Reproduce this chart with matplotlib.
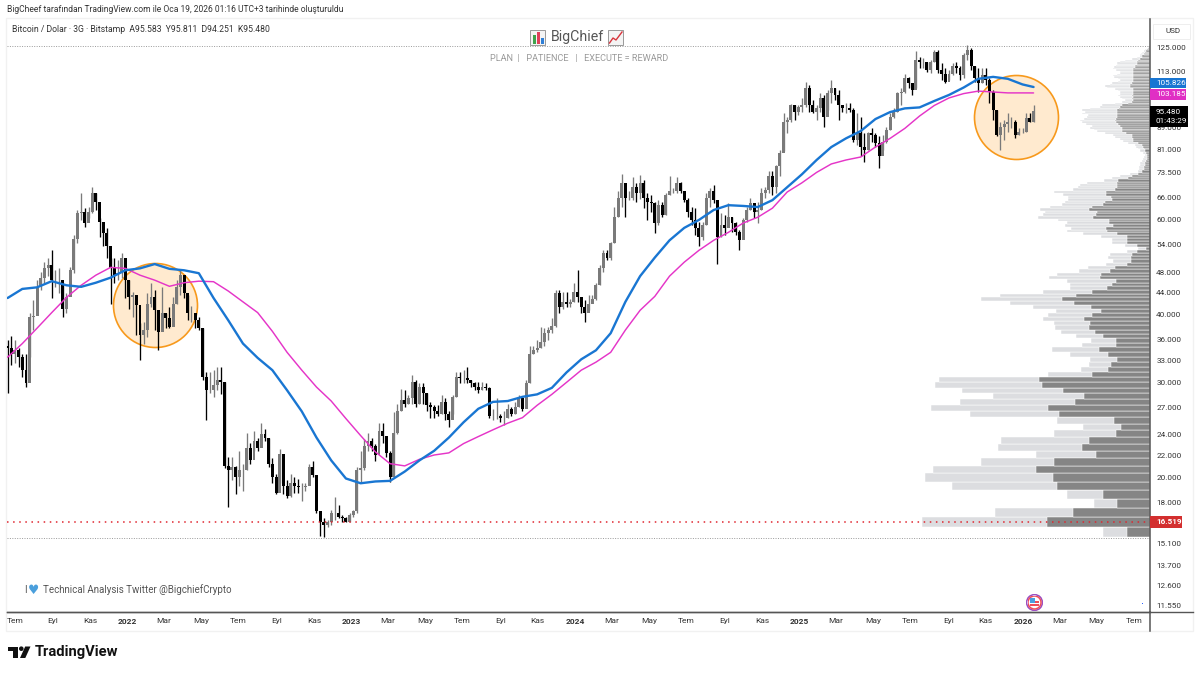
import numpy as np
import pandas as pd
import matplotlib
matplotlib.use("Agg")
import matplotlib.pyplot as plt
from matplotlib.patches import Rectangle, Circle, Polygon, FancyBboxPatch

plt.rcParams['font.family'] = ['Roboto', 'DejaVu Sans']

# ---------- data (thousand USD, one reading per 6 days) ----------
first_open = 35.0
closes = [
 34.8,33.9,34.4,33.4,31.6,29.9,39.6,39.9,45.0,46.8,
 48.9,49.4,46.4,46.4,46.4,41.1,43.1,48.4,55.4,61.8,
 62.1,59.2,62.1,67.3,64.8,59.4,56.7,53.8,48.9,47.4,
 47.8,50.9,46.4,43.1,43.6,41.7,36.7,37.5,42.0,43.1,
 40.8,37.2,40.3,39.5,38.0,42.0,45.0,47.4,43.9,40.3,
 40.3,39.1,37.8,30.7,29.0,29.0,29.6,30.3,30.0,21.0,
 20.6,20.9,20.0,20.6,20.6,22.7,21.5,23.4,22.7,24.1,
 23.7,21.2,20.0,18.7,22.1,19.3,18.5,19.5,19.3,19.2,
 19.2,19.3,20.9,20.2,17.3,16.5,16.3,16.5,17.2,17.2,
 16.9,16.8,16.5,17.0,17.3,20.6,20.8,22.9,23.4,22.9,
 22.0,24.4,23.9,22.2,20.0,24.2,26.6,27.8,27.4,28.1,
 30.0,27.4,29.4,28.7,27.2,27.0,26.6,26.2,27.6,26.2,
 25.5,28.2,30.7,30.6,30.6,30.3,29.9,29.4,29.0,29.4,
 29.3,26.0,26.0,26.0,25.8,25.8,26.8,26.2,27.0,28.1,
 26.8,29.9,33.9,34.4,34.8,35.6,37.0,37.5,38.2,43.9,
 41.3,42.3,42.0,42.3,44.1,43.1,41.3,40.3,42.0,42.9,
 45.4,48.8,52.0,50.9,54.3,60.7,65.9,70.3,65.9,65.9,
 69.0,67.3,70.3,65.9,64.8,64.5,59.2,63.9,61.3,66.7,
 67.9,67.9,70.3,67.9,65.3,62.1,60.0,58.0,55.7,58.7,
 65.9,67.9,65.3,55.7,58.7,58.0,60.7,59.2,57.0,55.0,
 60.0,62.6,64.5,62.1,62.6,67.3,68.2,72.3,69.0,75.5,
 79.8,91.0,91.9,97.8,95.1,97.0,98.1,105.6,97.8,95.1,
 96.7,101,93.1,103.1,105.3,102.3,97.8,96.6,96.6,95.9,
 84.4,87.0,81.9,80.9,87.0,86.3,83.3,78.8,83.8,88.1,
 93.1,95.1,103.1,103.5,109.9,107.5,104.5,118.8,117.6,117.6,
 113.8,117.6,122.9,113.8,112.1,108.0,112.1,116.0,114.9,111.6,
 121.3,123.9,116,110,107.5,111.6,109,103.5,95.9,86.3,
 89.2,90.2,91.0,91.1,86.3,87.4,87.4,92.7,91.1,95.48]
highs = [
 35.9,36.6,35.9,34.7,33.9,33.9,40.3,42.6,46.4,48.0,
 50.1,50.9,52.7,48.4,48.8,45.9,43.9,49.0,56.2,62.6,
 67.3,63.1,63.4,69.0,67.3,60.4,59.2,58.0,50.9,50.9,
 50.5,52.0,47.8,46.4,44.1,43.6,38.6,38.8,43.9,45.9,
 44.5,39.1,45.0,40.3,41.3,43.1,46.4,48.4,47.0,43.6,
 41.6,40.4,39.6,37.8,31.3,31.3,31.6,32.0,32.0,30.0,
 21.8,21.8,21.0,22.4,21.2,24.2,23.2,24.4,23.7,25.2,
 24.6,23.7,21.7,20.3,22.6,20.2,19.75,20.3,20.0,19.9,
 19.5,19.5,21.2,21.4,20.2,17.2,16.8,16.65,17.4,18.4,
 17.8,17.0,16.9,17.2,17.4,20.9,22.4,23.6,24.2,23.7,
 23.1,25.2,25.2,23.9,22.4,26.4,27.4,29.2,29.0,28.4,
 31.0,30.3,29.9,29.9,28.7,27.6,27.2,27.2,28.4,28.1,
 26.6,28.4,31.3,31.3,31.6,32.0,30.3,30.0,30.0,30.0,
 29.9,29.4,26.8,28.1,26.2,26.6,27.4,27.0,27.6,28.4,
 28.1,30.3,35.1,35.1,35.9,38.0,37.8,38.0,39.5,44.5,
 44.5,44.1,44.1,42.9,45.9,48.4,42.9,42.6,43.6,43.6,
 45.9,49.4,52.7,52.7,54.5,63.4,67.9,73.0,70.0,67.9,
 72.0,70.3,72.7,71.1,67.3,66.7,64.8,65.3,64.8,67.3,
 72.3,68.9,72.0,70.7,67.9,65.9,63.4,63.1,59.4,59.4,
 67.3,68.9,69.6,65.3,61.8,61.3,64.5,60.7,59.4,57.4,
 60.4,63.4,65.9,64.5,64.8,68.9,69.0,73.9,73.9,76.0,
 80.9,94.9,93.1,98.4,97.8,98.1,101,108,106.9,100.1,
 98.1,103.1,102.3,104.5,109,105.6,104.5,97.8,98.7,98.7,
 96.6,94.9,93.1,87.0,87.4,88.7,87.0,85.7,86.3,89.2,
 94.7,96.6,103.5,105.3,112,110.5,107.5,123.4,120.4,119.8,
 117.6,118.8,123.9,123.9,117,114.9,113.8,117,117.6,116,
 122.4,126.6,125,116,114.9,114.9,114.9,110,104.5,95.9,
 91.0,91.9,94.9,93.1,91.9,88.7,88.7,94.9,94.9,97.8]
lows = [
 28.7,32.3,32.6,32.0,30.7,29.4,33.4,37.5,40.3,44.5,
 45.9,47.2,43.0,45.0,43.9,39.6,40.4,43.6,47.8,54.3,
 60.0,58.1,60.4,61.8,62.6,55.7,53.8,51.1,42.0,45.9,
 46.4,46.9,43.0,41.1,39.6,36.7,33.0,35.4,36.4,41.3,
 37.5,34.4,37.5,37.8,37.8,40.3,42.0,43.6,43.0,39.1,
 38.8,37.8,37.5,30.3,25.5,28.7,28.2,29.0,28.5,20.8,
 17.6,19.75,18.6,19.3,18.9,20.6,21.2,22.4,22.4,23.2,
 23.4,20.9,19.5,18.6,19.5,18.6,18.3,18.4,18.7,18.7,
 18.1,18.9,20.0,20.0,17.2,15.6,15.5,16.2,16.3,16.65,
 16.8,16.5,16.5,16.5,16.9,17.2,19.5,20.6,22.4,22.4,
 21.4,22.9,23.2,21.8,19.6,20.0,24.1,26.6,27.0,27.4,
 27.4,27.0,27.4,27.4,26.6,25.8,25.8,26.0,26.2,25.5,
 24.8,26.2,28.2,29.9,29.9,29.9,29.4,29.0,28.7,29.0,
 29.0,25.8,25.5,25.7,25.3,25.0,25.8,26.0,26.2,27.0,
 26.6,27.0,29.9,33.9,34.2,34.7,35.1,35.9,37.0,38.0,
 40.4,41.1,41.3,41.3,42.3,42.3,40.3,38.8,40.8,42.3,
 42.6,45.4,48.0,50.5,50.5,54.3,60.7,63.4,60.7,65.3,
 65.3,64.8,65.6,63.1,60.0,62.1,56.7,58.7,60.7,61.3,
 66.7,67.3,67.3,67.3,64.8,60.7,58.7,56.2,53.8,55.0,
 58.7,63.4,64.5,49.7,55.7,56.2,58.7,57.0,56.2,52.7,
 55.7,59.4,62.6,60.4,59.2,62.6,65.9,67.3,66.7,67.3,
 72.3,80.4,87.0,91.0,91.9,94.1,95.1,97.0,95.1,94.7,
 91.9,95.1,89.2,95.9,98.7,100.1,91.9,95.1,94.7,95.1,
 83.8,82.5,78.8,76.7,80.9,83.8,81.9,74.9,80.9,83.3,
 88.1,92.7,95.1,97.8,103.1,105.6,102.3,105.6,114.7,114.7,
 112.8,112.2,117.6,112.2,109,107.5,109,111.6,112.2,109,
 110.1,118.8,113.8,108,103.5,107.5,106.9,98.7,91.9,85.7,
 80.9,84.4,87.4,88.7,85,86.3,87.0,87.4,91.1,91.0]

ma_blue = [
 43.0,44.7,45.0,46.2,45.4,45.1,45.9,46.9,48.4,48.8,49.7,48.7,48.4,47.8,
 43.0,39.1,35.4,33.3,31.6,29.0,26.5,23.7,21.5,19.9,19.5,19.65,19.7,20.5,
 21.5,22.4,23.7,25.3,26.8,27.6,27.7,28.2,28.5,29.3,31.3,33.1,34.4,37.0,
 42.3,47.2,51.1,55.0,58.0,60.0,62.6,63.9,63.7,63.4,65.3,69.0,72.9,77.5,
 81.9,85.0,87.7,92.3,95.1,96.6,97.0,99.7,102.3,105.6,109.6,110.5,109.6,107.0,105.826]
ma_magenta = [
 33.4,35.4,37.8,40.4,43.1,45.4,47.4,49.0,48.8,47.4,46.4,45.2,45.9,46.2,
 46.1,44.3,42.3,40.4,37.3,34.1,31.6,29.4,27.7,25.7,23.9,22.3,21.2,21.0,
 21.6,22.0,22.2,23.1,23.8,24.5,25.2,25.8,27.2,28.5,30.0,31.6,32.7,34.1,
 37.5,40.8,43.3,47.2,50.1,52.7,55.0,56.9,59.2,60.7,63.1,67.6,70.3,73.5,
 76.2,77.5,78.5,81.9,85.0,88.7,93.5,97.8,101,102.9,104,103.6,103.2,103.2,103.185]

# volume profile: rows of equal price height, from the lowest price upward
vp_start = 15.5
vp_step = 0.69
vp_total = [
 47,228,155,56,83,198,225,217,169,114,152,149,96,67,93,180,219,190,157,188,
 215,211,102,69,61,60,80,98,68,59,74,89,95,96,107,102,94,117,140,169,
 150,107,80,80,83,101,93,71,62,44,37,42,40,23,12,25,38,38,49,67,
 83,79,85,83,92,112,107,105,110,100,88,85,82,82,87,96,77,72,70,63,
 46,38,30,20,12,11,11,10,10,8,7,6,5,7,10,12,14,15,22,27,
 30,35,37,45,53,56,60,58,64,68,70,66,63,62,68,65,68,60,50,48,
 35,28,25,28,30,32,30,30,32,35,43,45,40,38,32,30,32,36,37,33,
 30,30,34,37,36,34,33,33,30,25,18,13,10,10,9,8,6,5,3,2]
vp_up = [
 23,103,77,33,47,93,97,114,96,54,68,61,34,29,36,91,102,75,66,87,
 108,111,58,42,39,33,42,51,34,34,47,55,61,60,66,58,49,59,76,88,
 74,58,43,38,34,50,49,40,35,23,19,19,18,13,4,13,23,23,23,33,
 43,44,37,41,41,57,54,53,61,58,47,45,38,39,44,44,35,33,33,33,
 32,22,18,12,8,6,6,5,5,4,3,3,3,4,5,6,7,8,12,17,
 17,18,18,24,28,28,28,30,32,34,35,34,33,33,33,33,33,31,30,28,
 22,18,17,18,17,18,17,17,17,17,20,20,20,18,17,17,17,17,17,17,
 17,17,17,17,15,15,13,13,13,12,10,8,8,6,6,5,4,3,2,1]

price_ticks = [125,113,101,89,81,73.5,66,60,54,48,44,40,36,33,30,27,24,22,20,18,15.1,13.7,12.6,11.55]
month_ticks = ['2021-07','2021-09','2021-11','2022-01','2022-03','2022-05','2022-07','2022-09','2022-11',
               '2023-01','2023-03','2023-05','2023-07','2023-09','2023-11','2024-01','2024-03','2024-05',
               '2024-07','2024-09','2024-11','2025-01','2025-03','2025-05','2025-07','2025-09','2025-11',
               '2026-01','2026-03','2026-05','2026-07']
month_labels = ['Tem','Eyl','Kas','2022','Mar','May','Tem','Eyl','Kas','2023','Mar','May','Tem','Eyl','Kas',
                '2024','Mar','May','Tem','Eyl','Kas','2025','Mar','May','Tem','Eyl','Kas','2026','Mar','May','Tem']
last_price = 95.48
low_line = 16.519
range_top = 126.1
range_bottom = 15.45

# ---------- figure ----------
W, H = 1200, 673
fig = plt.figure(figsize=(W/100, H/100), dpi=100, facecolor='white')
def fx(x): return x/W
def fy(y): return 1-y/H
ax = fig.add_axes([fx(7), fy(612), (1150-7)/W, (612-19)/H])
vp = ax.twiny()
ax.set_zorder(2); vp.set_zorder(1)
ax.patch.set_visible(False)
vp.patch.set_facecolor('white')

c = np.array(closes)*1000.0
h = np.array(highs)*1000.0
l = np.array(lows)*1000.0
o = np.r_[first_open*1000.0, c[:-1]]
dates = pd.date_range('2021-06-19', periods=len(c), freq='6D')
col = np.where(c >= o, '#7a7a7a', '#000000')

ax.set_yscale('log')
ax.set_ylim(11256, 141470)
ax.set_xlim(pd.Timestamp('2021-06-18'), pd.Timestamp('2026-07-27'))

# circles
circ_d = [pd.Timestamp('2022-02-14'), pd.Timestamp('2025-12-20')]
circ_p = [41700, 93100]
ax.scatter(circ_d, circ_p, s=(84*0.72)**2, facecolor='#ffeacf', edgecolor='#f7991c', linewidth=1.2, zorder=1)

# range and low lines
ax.axhline(range_top*1000, color='#9a9a9a', lw=0.7, ls=(0, (1, 1.5)), zorder=1)
ax.axhline(range_bottom*1000, color='#9a9a9a', lw=0.7, ls=(0, (1, 1.5)), zorder=1)

# candles
ax.vlines(dates, l, h, colors=col, lw=0.95, zorder=3)
ax.bar(dates, np.abs(c-o), bottom=np.minimum(c, o), width=4.8, color=col, linewidth=0, zorder=3)

# moving averages
ma_dates = list(pd.date_range('2021-06-19', periods=70, freq='24D')) + [dates[-1]]
ax.plot(ma_dates, np.array(ma_blue)*1000, color='#1976d2', lw=1.7, zorder=5,
        solid_capstyle='round', solid_joinstyle='round')
ax.plot(ma_dates, np.array(ma_magenta)*1000, color='#e535c8', lw=1.05, zorder=4,
        solid_capstyle='round', solid_joinstyle='round')

ax.axhline(low_line*1000, color='#e0262f', lw=1.1, ls=(0, (1, 3)), zorder=6)

# volume profile
edges = (vp_start + vp_step*np.arange(len(vp_total)))*1000.0
hts = np.full(len(vp_total), vp_step*1000.0)
vp.set_xlim(1143, 0)
vp.barh(edges, vp_total, height=hts, align='edge', color='#dcdde0', edgecolor='white', linewidth=0.35)
vp.barh(edges, vp_up, height=hts, align='edge', color='#858585', edgecolor='white', linewidth=0.35)
vp.set_xticks([])
vp.set_yscale('log')
vp.set_ylim(11256, 141470)
for s in vp.spines.values():
    s.set_visible(False)

# axes
for s in ['top', 'left']:
    ax.spines[s].set_visible(False)
ax.spines['right'].set_color('#555555'); ax.spines['right'].set_linewidth(1.1)
ax.spines['bottom'].set_color('#555555'); ax.spines['bottom'].set_linewidth(1.0)
ax.yaxis.tick_right()
ax.set_yticks([p*1000 for p in price_ticks])
ax.set_yticklabels([f"{p:.3f}" for p in price_ticks], fontsize=5.9, color='#333333')
ax.minorticks_off()
ax.tick_params(axis='y', which='both', length=0, pad=4.5)
ax.set_xticks([pd.Timestamp(m + '-01') for m in month_ticks])
ax.set_xticklabels(month_labels, fontsize=6.0, color='#333333')
for t, lab in zip(ax.get_xticklabels(), month_labels):
    if lab.isdigit():
        t.set_fontweight('bold')
ax.tick_params(axis='x', length=0, pad=4)

# chrome
def T(x, y, s, **kw):
    kw.setdefault('va', 'center'); kw.setdefault('ha', 'left')
    return fig.text(fx(x), fy(y), s, **kw)
def R(x0, y0, x1, y1, **kw):
    p = Rectangle((fx(x0), fy(y1)), (x1-x0)/W, (y1-y0)/H, transform=fig.transFigure, **kw)
    fig.add_artist(p); return p

R(6, 18, 1193, 631, facecolor='none', edgecolor='#f1f1f1', lw=1.0, zorder=0)
fig.add_artist(plt.Line2D([fx(7), fx(1193)], [fy(612), fy(612)], color='#555555', lw=1.0))
fig.add_artist(plt.Line2D([fx(1150), fx(1150)], [fy(612), fy(631)], color='#555555', lw=1.1))

T(7, 9.5, 'BigCheef tarafından TradingView.com ile Oca 19, 2026 01:16 UTC+3 tarihinde oluşturuldu', fontsize=6.15, color='#333333')
T(12.5, 29, 'Bitcoin / Dolar · 3G · Bitstamp  A95.583  Y95.811  D94.251  K95.480', fontsize=6.2, color='#333333')

T(577, 37, 'BigChief', fontsize=10.2, color='#555555', ha='center')
T(579, 58, 'PLAN  |   PATIENCE   |   EXECUTE = REWARD', fontsize=6.6, color='#9a9a9a', ha='center')
# bar chart icon
R(530, 30, 545, 45, facecolor='#f4f4f4', edgecolor='#8a8a8a', lw=0.6, zorder=7)
R(532.5, 35, 535.5, 44, facecolor='#3fa34d', edgecolor='none', zorder=8)
R(536.5, 32, 539.5, 44, facecolor='#e0405a', edgecolor='none', zorder=8)
R(540.5, 38, 543.5, 44, facecolor='#2f7fd6', edgecolor='none', zorder=8)
# rising chart icon
R(608, 30, 623, 45, facecolor='#f4f4f4', edgecolor='#8a8a8a', lw=0.6, zorder=7)
fig.add_artist(plt.Line2D([fx(609.5), fx(613), fx(616), fx(622)], [fy(43), fy(38), fy(40), fy(32)], color='#d8343c', lw=1.0, zorder=8))

T(24, 590, 'I', fontsize=7.0, color='#555555')
T(27.5, 590, '♥', fontsize=9, color='#4a9fdc', family='DejaVu Sans')
T(43, 590, 'Technical Analysis Twitter @BigchiefCrypto', fontsize=7.0, color='#555555')

# price chips
T(1165, 31, 'USD', fontsize=5.9, color='#333333')
R(1153, 24, 1190, 39, facecolor='none', edgecolor='#eeeeee', lw=0.7, zorder=0)
def chip(y0, y1, x1, color):
    p = FancyBboxPatch((fx(1150), fy(y1)), (x1-1150)/W, (y1-y0)/H, boxstyle='square,pad=0', transform=fig.transFigure,
                       facecolor=color, edgecolor='none', zorder=9)
    fig.add_artist(p)
chip(77.5, 88, 1186, '#1976d2')
T(1156, 83, '105.826', fontsize=5.9, color='white', zorder=10)
chip(88.5, 99.5, 1186, '#e02fc4')
T(1156, 94, '103.185', fontsize=5.9, color='white', zorder=10)
chip(106, 126.5, 1188, '#000000')
T(1156, 112, f"{last_price:.3f}", fontsize=5.9, color='white', zorder=10)
T(1156, 121, '01:43:29', fontsize=5.9, color='white', zorder=10)
chip(516, 528, 1182, '#d32f2f')
T(1156, 522, f"{low_line:.3f}", fontsize=5.9, color='white', zorder=10, fontweight='bold')

# flag icon and small dot
for r, fc, ec in [(8.5, 'white', '#9c4fc0'), (7, 'white', '#ef4d5a')]:
    sc = fig.add_axes([fx(1034.5-r), fy(602.5+r), 2*r/W, 2*r/H], zorder=11)
    sc.set_xlim(-1, 1); sc.set_ylim(-1, 1); sc.axis('off')
    sc.add_patch(Circle((0, 0), 0.93, facecolor=fc, edgecolor=ec, lw=1.1))
    if r == 7:
        sc.add_patch(Rectangle((-0.65, -0.05), 0.7, 0.65, facecolor='#4a9fe0', edgecolor='none'))
        sc.add_patch(Rectangle((0.05, 0.0), 0.65, 0.2, facecolor='#ef4d5a', edgecolor='none'))
        sc.add_patch(Rectangle((-0.65, -0.45), 1.3, 0.2, facecolor='#ef4d5a', edgecolor='none'))
R(1142, 603, 1143.3, 604.3, facecolor='#2962ff', edgecolor='none', zorder=11)

# TradingView logo
R(8, 646.5, 18, 651, facecolor='#111111', edgecolor='none')
R(13, 646.5, 18, 658, facecolor='#111111', edgecolor='none')
fig.add_artist(Polygon([(fx(20), fy(658)), (fx(25.2), fy(646.5)), (fx(30.5), fy(646.5)), (fx(25.3), fy(658))],
                       closed=True, transform=fig.transFigure, facecolor='#111111', edgecolor='none'))
cax = fig.add_axes([fx(19), fy(651), 4.6/W, 4.6/H]); cax.set_xlim(-1, 1); cax.set_ylim(-1, 1); cax.axis('off')
cax.add_patch(Circle((0, 0), 1, facecolor='#111111', edgecolor='none'))
T(34.5, 652, 'TradingView', fontsize=10.6, fontweight='bold', color='#111111')

fig.savefig('out.png', dpi=100)
